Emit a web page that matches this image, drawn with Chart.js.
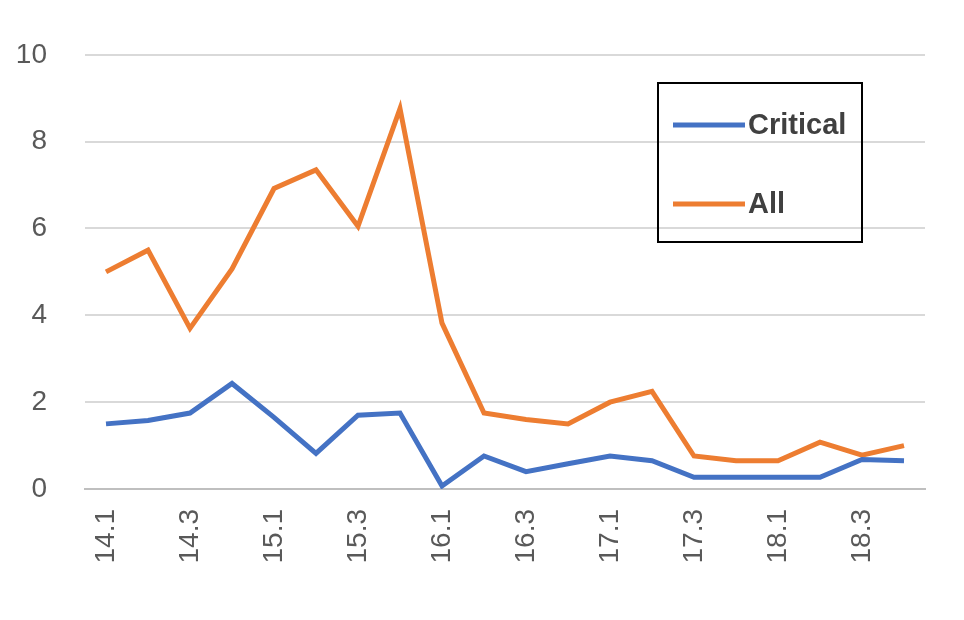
<!DOCTYPE html>
<html><head><meta charset="utf-8">
<script src="https://cdn.jsdelivr.net/npm/chart.js@4"></script>
<style>html,body{margin:0;padding:0;background:#fff}#w{width:964px;height:620px}</style>
</head><body><div id="w"><canvas id="c"></canvas></div>
<script>
const categories=['14.1','14.2','14.3','14.4','15.1','15.2','15.3','15.4','16.1','16.2','16.3','16.4','17.1','17.2','17.3','17.4','18.1','18.2','18.3','18.4'];
const critical=[1.5,1.58,1.75,2.43,1.65,0.82,1.7,1.75,0.07,0.76,0.4,0.58,0.76,0.65,0.27,0.27,0.27,0.27,0.68,0.65];
const all=[5.0,5.5,3.7,5.07,6.92,7.35,6.05,8.76,3.82,1.75,1.6,1.5,2.0,2.25,0.76,0.65,0.65,1.08,0.78,1.0];
const yTicks=[0,2,4,6,8,10];
const boxLegend={id:'boxLegend',afterDraw(ch){const c=ch.ctx;c.save();c.strokeStyle='#000';c.lineWidth=2;c.strokeRect(658,83,204,159);
ch.data.datasets.forEach((d,i)=>{const y=125+i*79;c.strokeStyle=d.borderColor;c.lineWidth=5;c.beginPath();c.moveTo(673,y);c.lineTo(745,y);c.stroke();
c.fillStyle='#404040';c.font='bold 29px "Liberation Sans", Arial, sans-serif';c.textBaseline='middle';c.fillText(d.label,748,y+1);});c.restore();}};
new Chart(document.getElementById('c'),{type:'line',
data:{labels:categories,datasets:[
{label:'Critical',data:critical,borderColor:'#4472C4',borderWidth:5,pointRadius:0,tension:0},
{label:'All',data:all,borderColor:'#ED7D31',borderWidth:5,pointRadius:0,tension:0}]},
options:{responsive:true,maintainAspectRatio:false,animation:false,
layout:{padding:{top:14,right:39,left:0,bottom:0}},
plugins:{legend:{display:false},tooltip:{enabled:false}},
scales:{x:{offset:true,grid:{display:false},border:{color:'#bfbfbf',width:2},afterFit:a=>{a.height=131;},
ticks:{color:'#595959',padding:12,font:{size:28,family:'"Liberation Sans", Arial'},maxRotation:90,minRotation:90,autoSkip:false,
callback:(v,i)=>i%2===0?categories[i]:''}},
y:{min:0,max:10,afterBuildTicks:a=>{a.ticks=yTicks.map(v=>({value:v}));},afterFit:a=>{a.width=85;},grid:{color:'#d9d9d9',lineWidth:2,drawTicks:false},border:{display:false},
ticks:{color:'#595959',padding:38,font:{size:28,family:'"Liberation Sans", Arial'}}}}},
plugins:[boxLegend]});
</script></body></html>
